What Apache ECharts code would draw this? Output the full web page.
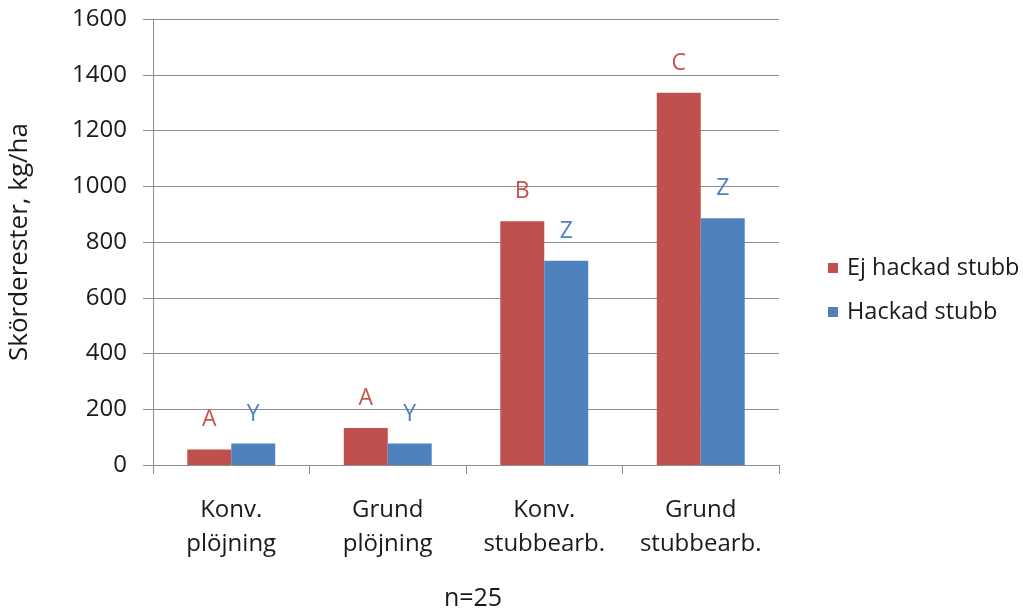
<!DOCTYPE html>
<html>
<head>
<meta charset="utf-8">
<script src="https://cdn.jsdelivr.net/npm/echarts@6/dist/echarts.min.js"></script>
<style>
  html, body { margin: 0; padding: 0; background: #fff; }
  #chart { width: 1023px; height: 612px; }
</style>
</head>
<body>
<div id="chart"></div>
<script>
// Skörderester per jordbearbetning, med och utan hackad stubb
const categories = ['Konv.\nplöjning', 'Grund\nplöjning', 'Konv.\nstubbearb.', 'Grund\nstubbearb.'];
const seriesNames = ['Ej hackad stubb', 'Hackad stubb'];
const ejHackad = [56, 133, 874, 1335];
const hackad = [77, 77, 733, 885];
// Signifikansbokstäver över staplarna
const ejHackadLetters = ['A', 'A', 'B', 'C'];
const hackadLetters = ['Y', 'Y', 'Z', 'Z'];
const yTicks = { min: 0, max: 1600, interval: 200 };

const FONT = '"Open Sans", "Noto Sans", sans-serif';
const TEXT = '#1a1a1a';
const RED = '#c0504d';
const BLUE = '#4f81bd';
const GRID = '#8e8e8e';

const chart = echarts.init(document.getElementById('chart'), null, { renderer: 'canvas' });

function barSeries(name, values, letters, color, labelColor) {
  return {
    name: name,
    type: 'bar',
    data: values,
    barGap: '0%',
    barCategoryGap: '43.8%',
    itemStyle: { color: color },
    label: {
      show: true,
      position: 'top',
      distance: 18,
      color: labelColor,
      fontFamily: FONT,
      fontSize: 23,
      formatter: p => letters[p.dataIndex]
    }
  };
}

chart.setOption({
  animation: false,
  backgroundColor: '#ffffff',
  textStyle: { fontFamily: FONT },
  grid: {
    left: 153, right: 244, top: 19, bottom: 147,
    containLabel: false,
    outerBoundsMode: 'none'
  },
  legend: {
    orient: 'vertical',
    left: 823,
    top: 249,
    itemWidth: 10,
    itemHeight: 10,
    itemGap: 16,
    icon: 'rect',
    data: seriesNames,
    textStyle: {
      fontFamily: FONT,
      fontSize: 23.5,
      color: TEXT,
      lineHeight: 28,
      padding: [0, 0, 0, 4]
    }
  },
  xAxis: {
    type: 'category',
    data: categories,
    axisLine: { show: true, lineStyle: { color: GRID, width: 1 } },
    axisTick: { show: true, length: 9, alignWithLabel: false, lineStyle: { color: GRID } },
    axisLabel: {
      interval: 0,
      margin: 28,
      fontFamily: FONT,
      fontSize: 24,
      color: TEXT,
      lineHeight: 34
    }
  },
  yAxis: {
    type: 'value',
    min: yTicks.min,
    max: yTicks.max,
    interval: yTicks.interval,
    name: 'Skörderester, kg/ha',
    nameLocation: 'middle',
    nameGap: 120,
    nameRotate: 90,
    nameTextStyle: { fontFamily: FONT, fontSize: 26, color: TEXT },
    axisLine: { show: true, lineStyle: { color: GRID, width: 1 } },
    axisTick: { show: true, length: 10, lineStyle: { color: GRID } },
    splitLine: { show: true, lineStyle: { color: GRID, width: 1 } },
    axisLabel: {
      margin: 26,
      fontFamily: FONT,
      fontSize: 24,
      color: TEXT,
      formatter: v => String(v)
    }
  },
  graphic: [{
    type: 'text',
    x: 473,
    y: 599,
    style: {
      text: 'n=25',
      font: '25px ' + FONT,
      fill: TEXT,
      align: 'center',
      verticalAlign: 'middle'
    }
  }],
  series: [
    barSeries(seriesNames[0], ejHackad, ejHackadLetters, RED, '#c9534f'),
    barSeries(seriesNames[1], hackad, hackadLetters, BLUE, '#4f81c4')
  ]
});
</script>
</body>
</html>
